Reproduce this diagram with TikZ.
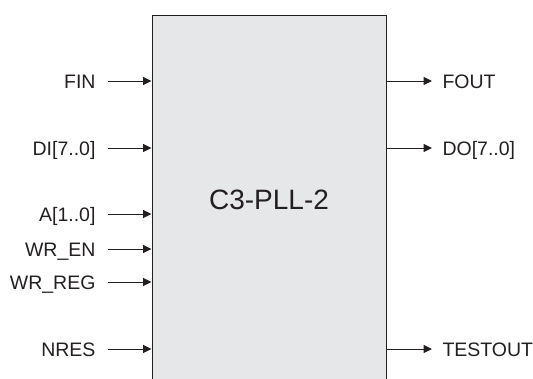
\documentclass[tikz,border=0pt]{standalone}
\usepackage{fontspec}
\setmainfont{Liberation Sans}
\usetikzlibrary{arrows.meta,positioning,calc}
\definecolor{blockfill}{HTML}{E6E7E8}
\definecolor{inkline}{HTML}{231F20}

\begin{document}
\begin{tikzpicture}[x=1pt,y=-1pt,line width=1pt,
 sig/.style={inner sep=0pt,text height=14pt,text depth=0pt,text=inkline,
  font=\fontsize{19.5}{22}\selectfont},
 blockbox/.style={draw=inkline,fill=blockfill,minimum width=234pt,minimum height=368pt,
  inner sep=0pt,text height=20pt,text depth=0pt,text=inkline,font=\fontsize{28}{32}\selectfont},
 wire/.style={draw=inkline,-{Triangle[length=8.5pt,width=8pt]}}]
\useasboundingbox (0,0) rectangle (533,378);
\node[blockbox] (pll) at (269,199) {C3-PLL-2};
% inputs
\foreach \nm/\y/\lab in {fin/81/FIN,di/148/{DI[7..0]},a/214/{A[1..0]},wren/249/WR\_EN,
 wrreg/282/WR\_REG,nres/349/NRES} {
 \node[sig,anchor=east] (\nm) at (96,\y) {\lab};
 \draw[wire] ([xshift=12pt]\nm.east) -- (\nm.east -| pll.west);
}
% outputs
\foreach \nm/\y/\lab in {fout/81/FOUT,do/148/{DO[7..0]},testout/349/TESTOUT} {
 \node[sig,anchor=west] (\nm) at (442,\y) {\lab};
 \draw[wire] (\nm.west -| pll.east) -- ([xshift=-10pt]\nm.west);
}
\end{tikzpicture}
\end{document}
